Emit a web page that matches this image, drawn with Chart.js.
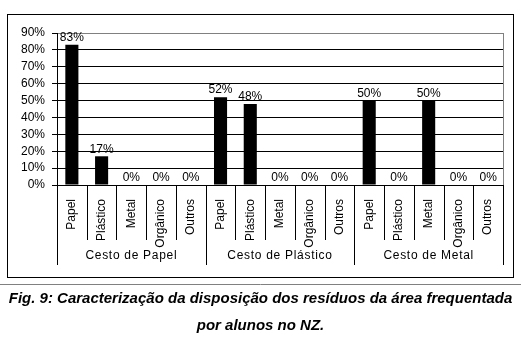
<!DOCTYPE html>
<html>
<head>
<meta charset="utf-8">
<script src="https://cdn.jsdelivr.net/npm/chart.js@4/dist/chart.umd.min.js"></script>
<style>
  html, body { margin: 0; padding: 0; background: #fff; }
  #wrap { position: relative; width: 521px; height: 350px; }
  #chart { position: absolute; left: 0; top: 0; }
  .caption {
    position: absolute; left: 0; width: 521px; text-align: center;
    font-family: Arial, "Liberation Sans", sans-serif;
    font-weight: bold; font-style: italic; font-size: 15px; color: #000;
    white-space: nowrap;
  }
</style>
</head>
<body>
<div id="wrap">
  <canvas id="chart" width="521" height="350"></canvas>
  <div class="caption" style="top:289px">Fig. 9: Caracterização da disposição dos resíduos da área frequentada</div>
  <div class="caption" style="top:316px">por alunos no NZ.</div>
</div>
<script>
// residue types inside each bin
const residues = ['Papel', 'Plástico', 'Metal', 'Orgânico', 'Outros'];
// bins (one group of five bars each)
const bins = ['Cesto de Papel', 'Cesto de Plástico', 'Cesto de Metal'];
// percentage of each residue found per bin
const cestoPapel = [83, 17, 0, 0, 0];
const cestoPlastico = [52, 48, 0, 0, 0];
const cestoMetal = [50, 0, 50, 0, 0];
const yTicks = [0, 10, 20, 30, 40, 50, 60, 70, 80, 90];

const FONT = 'Arial, "Liberation Sans", sans-serif';

const labels = [];
bins.forEach(() => residues.forEach(r => labels.push(r)));
const values = [].concat(cestoPapel, cestoPlastico, cestoMetal);

// frame, separators, value labels and bin names
const decorPlugin = {
    id: 'decor',
    afterDraw(chart) {
        const ctx = chart.ctx;
        const area = chart.chartArea;
        const x = chart.scales.x;
        const step = x.getPixelForValue(1) - x.getPixelForValue(0);

        ctx.save();
        // outer box
        ctx.strokeStyle = '#000';
        ctx.lineWidth = 1;
        ctx.strokeRect(7.5, 14.5, 506, 263);

        // rule above the caption
        ctx.strokeStyle = '#808080';
        ctx.beginPath();
        ctx.moveTo(0, 284.5);
        ctx.lineTo(521, 284.5);
        ctx.stroke();

        // right border of the plot
        ctx.beginPath();
        ctx.moveTo(Math.round(area.right) + 0.5, area.top);
        ctx.lineTo(Math.round(area.right) + 0.5, area.bottom);
        ctx.stroke();

        // category separators below the axis
        ctx.strokeStyle = '#000';
        for (let i = 0; i <= labels.length; i++) {
            const px = Math.round(x.getPixelForValue(i) - step / 2) + 0.5;
            const long = i % residues.length === 0;
            ctx.beginPath();
            ctx.moveTo(px, area.bottom);
            ctx.lineTo(px, area.bottom + (long ? 80 : 55));
            ctx.stroke();
        }

        // bin names
        ctx.fillStyle = '#000';
        ctx.font = '12px ' + FONT;
        ctx.textAlign = 'center';
        ctx.textBaseline = 'middle';
        ctx.letterSpacing = '0.7px';
        bins.forEach((b, g) => {
            const first = x.getPixelForValue(g * residues.length);
            const last = x.getPixelForValue((g + 1) * residues.length - 1);
            ctx.fillText(b, (first + last) / 2, area.bottom + 71);
        });
        ctx.letterSpacing = '0px';

        // value labels above bars
        const meta = chart.getDatasetMeta(0);
        ctx.textBaseline = 'bottom';
        meta.data.forEach((bar, i) => {
            ctx.fillText(values[i] + '%', bar.x, bar.y - 1);
        });
        ctx.restore();
    }
};

new Chart(document.getElementById('chart'), {
    type: 'bar',
    data: {
        labels: labels,
        datasets: [{
            data: values,
            backgroundColor: '#000',
            barPercentage: 0.44,
            categoryPercentage: 1.0
        }]
    },
    options: {
        responsive: false,
        animation: false,
        layout: { padding: { left: 7, top: 33, right: 18, bottom: 85 } },
        plugins: { legend: { display: false }, tooltip: { enabled: false } },
        scales: {
            y: {
                min: 0,
                max: 90,
                afterFit: s => { s.width = 50; },
                afterBuildTicks: s => { s.ticks = yTicks.map(v => ({ value: v })); },
                border: { color: '#000' },
                grid: {
                    color: c => (c.tick && c.tick.value === 90 ? '#808080' : '#000'),
                    tickLength: 5,
                    tickColor: '#000'
                },
                ticks: {
                    autoSkip: false,
                    padding: 7,
                    color: '#000',
                    font: { family: FONT, size: 12 },
                    callback: v => v + '%'
                }
            },
            x: {
                afterFit: s => { s.height = 80; },
                border: { color: '#000' },
                grid: { display: false },
                ticks: {
                    autoSkip: false,
                    minRotation: 90,
                    maxRotation: 90,
                    padding: 6,
                    color: '#000',
                    font: { family: FONT, size: 12 }
                }
            }
        }
    },
    plugins: [decorPlugin]
});
</script>
</body>
</html>
